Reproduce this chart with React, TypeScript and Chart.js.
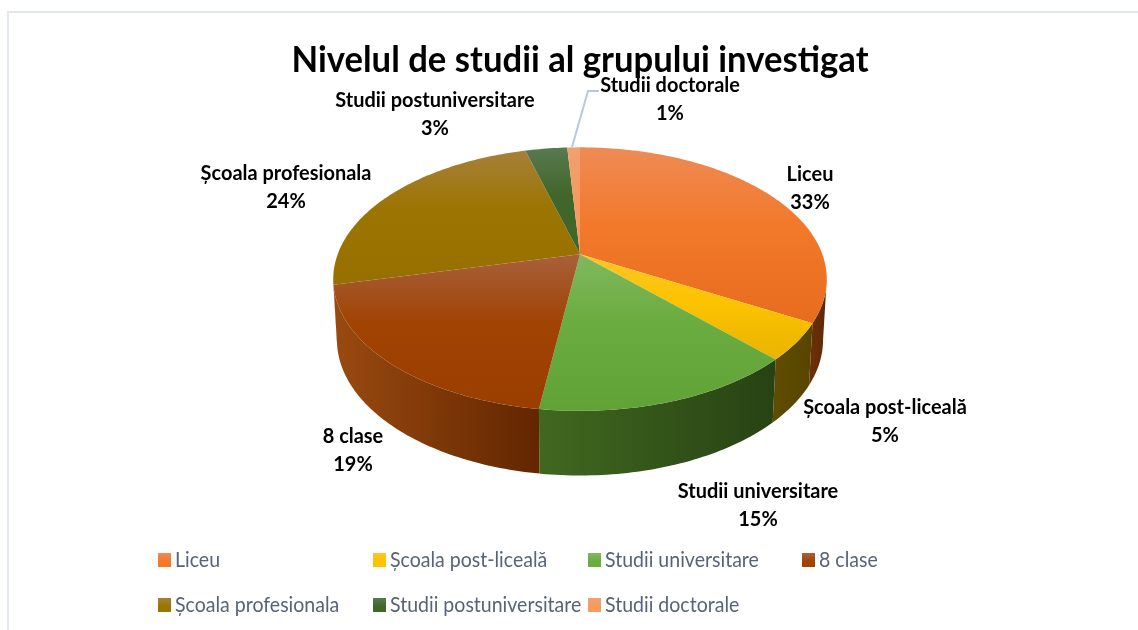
import React, { useEffect, useRef } from "react";
import { Chart, PieController, ArcElement, Title } from "chart.js";

const categories = ["Liceu", "Școala post-liceală", "Studii universitare", "8 clase", "Școala profesionala", "Studii postuniversitare", "Studii doctorale"];
const shares = [33.2, 4.5, 14.5, 19.1, 24.4, 3.3, 1];
const titleText = "Nivelul de studii al grupului investigat";
const topLight = ["#EE8B55", "#FFC42A", "#80B85E", "#A8603C", "#A6803A", "#587A50", "#F0A070"];
const topBase = ["#F2782A", "#FBC300", "#6AAC3F", "#A04303", "#9C7400", "#41662A", "#F79A5F"];
const topLow = ["#E76C1E", "#E9B400", "#60A236", "#9A3E00", "#967000", "#41662A", "#F79A5F"];
const wallLight = ["#6B2F08", "#5F4C00", "#41681F", "#9A4A10", "#6B5200", "#2A4516", "#A05020"];
const wallDark = ["#5E2806", "#574500", "#274214", "#622600", "#6B5200", "#2A4516", "#A05020"];

const labelPositions = [[810, 174], [885, 407], [758, 491], [353, 436], [286, 173], [435, 100], [670, 85]];
const legendPositions = [[158, 553], [373, 553], [588, 553], [802, 553], [158, 598], [373, 598], [588, 598]];

const CANVAS_LEFT = 22;
const K = -0.189;
const RX = 242.6 / 172;
const RY = 127.2 / 172;
const DEPTH = 60 / 172;
const SHRINK_X = 0.985;
const STRETCH_Y = 1.03;
const SIL = Math.asin(-K);

function project(el: any, a: number, bottom: boolean) {
  const R = el.outerRadius;
  const w = 1 + K * Math.sin(a);
  return [
    el.x + ((bottom ? SHRINK_X : 1) * R * RX * Math.cos(a)) / w,
    el.y + (bottom ? R * DEPTH : 0) + ((bottom ? STRETCH_Y : 1) * R * RY * Math.sin(a)) / w,
  ];
}

class Arc3D extends ArcElement {
  static id = "arc3d";
  draw(ctx: CanvasRenderingContext2D) {
    const el: any = this.getProps(["x", "y", "startAngle", "endAngle", "outerRadius"] as any);
    const i = (this as any).sliceIndex as number;
    const STEP = Math.PI / 180;
    // wall
    const a0 = Math.max(el.startAngle, SIL);
    const a1 = Math.min(el.endAngle, Math.PI - SIL);
    if (a1 > a0) {
      const pts: number[][] = [];
      const pbs: number[][] = [];
      for (let a = a0; ; a += STEP) {
        const t = Math.min(a, a1);
        pts.push(project(el, t, false));
        pbs.push(project(el, t, true));
        if (a >= a1) break;
      }
      const xs = pts.map((p) => p[0]);
      const g = ctx.createLinearGradient(Math.min(...xs), 0, Math.max(...xs), 0);
      g.addColorStop(0, wallLight[i]);
      g.addColorStop(1, wallDark[i]);
      ctx.beginPath();
      pts.forEach((p, n) => (n ? ctx.lineTo(p[0], p[1]) : ctx.moveTo(p[0], p[1])));
      pbs.reverse().forEach((p) => ctx.lineTo(p[0], p[1]));
      ctx.closePath();
      ctx.fillStyle = g;
      ctx.fill();
    }
    // top face, shaded over the slice's own height
    const outline: number[][] = [[el.x, el.y]];
    for (let a = el.startAngle; ; a += STEP) {
      const t = Math.min(a, el.endAngle);
      outline.push(project(el, t, false));
      if (a >= el.endAngle) break;
    }
    const ys = outline.map((p) => p[1]);
    const g = ctx.createLinearGradient(0, Math.min(...ys), 0, Math.max(...ys));
    g.addColorStop(0, topLight[i]);
    g.addColorStop(0.45, topBase[i]);
    g.addColorStop(1, topLow[i]);
    ctx.beginPath();
    outline.forEach((p, n) => (n ? ctx.lineTo(p[0], p[1]) : ctx.moveTo(p[0], p[1])));
    ctx.closePath();
    ctx.fillStyle = g;
    ctx.fill();
  }
}

class Pie3DController extends PieController {
  static id = "pie3d";
  static defaults = { ...PieController.defaults, dataElementType: "arc3d" };
  static overrides = PieController.overrides;
  updateElements(arcs: any[], start: number, count: number, mode: any) {
    super.updateElements(arcs, start, count, mode);
    for (let i = start; i < start + count; i++) arcs[i].sliceIndex = i;
  }
}

const narrowTitlePlugin = {
  id: "narrowTitle",
  afterLayout(chart: any) {
    const block = chart.titleBlock;
    if (!block || block.__narrow) return;
    block.__narrow = true;
    const original = block.draw;
    block.draw = function (...args: any[]) {
      const ctx = chart.ctx as CanvasRenderingContext2D;
      const cx = chart.width / 2;
      ctx.save();
      ctx.translate(cx, 0);
      ctx.scale(0.937, 1);
      ctx.translate(-cx, 0);
      original.apply(block, args);
      ctx.restore();
    };
  },
};

const labelsPlugin = {
  id: "sliceLabels",
  afterDatasetsDraw(chart: any) {
    const ctx = chart.ctx as CanvasRenderingContext2D;
    const vals = chart.data.datasets[0].data as number[];
    const total = vals.reduce((s, v) => s + v, 0);
    ctx.save();
    // leader line of the smallest slice
    ctx.strokeStyle = "#B9C8DB";
    ctx.lineWidth = 2;
    ctx.beginPath();
    ctx.moveTo(599 - CANVAS_LEFT, 91);
    ctx.lineTo(588 - CANVAS_LEFT, 91);
    ctx.lineTo(572 - CANVAS_LEFT, 147);
    ctx.stroke();
    ctx.fillStyle = "#000000";
    ctx.textAlign = "center";
    ctx.textBaseline = "middle";
    ctx.font = "bold 21px Lato";
    (chart.data.labels as string[]).forEach((name, i) => {
      const [x, y] = labelPositions[i];
      ctx.save();
      ctx.translate(x - CANVAS_LEFT, 0);
      ctx.scale(0.95, 1);
      ctx.fillText(name, 0, y);
      ctx.fillText(Math.round((vals[i] / total) * 100 + 1e-6) + "%", 0, y + 28.5);
      ctx.restore();
    });
    // legend
    ctx.textAlign = "left";
    ctx.font = "21px Lato";
    (chart.data.labels as string[]).forEach((name, i) => {
      const [x, y] = legendPositions[i];
      const sw = ctx.createLinearGradient(0, y, 0, y + 14);
      sw.addColorStop(0, topLight[i]);
      sw.addColorStop(0.6, topBase[i]);
      ctx.fillStyle = sw;
      ctx.fillRect(x - CANVAS_LEFT, y, 13, 14);
      ctx.fillStyle = "#56637A";
      ctx.save();
      ctx.translate(x + 17 - CANVAS_LEFT, 0);
      ctx.scale(0.93, 1);
      ctx.fillText(name, 0, y + 7);
      ctx.restore();
    });
    ctx.restore();
  },
};

Chart.register(Pie3DController, Arc3D, Title);

export default function App() {
  const ref = useRef<HTMLCanvasElement>(null);
  useEffect(() => {
    const chart = new Chart(ref.current!, {
      type: "pie3d" as any,
      data: {
        labels: categories,
        datasets: [{ data: shares, borderWidth: 0 }],
      },
      options: {
        responsive: false,
        animation: false,
        layout: { padding: { bottom: 204 } },
        plugins: {
          legend: { display: false },
          tooltip: { enabled: false },
          title: {
            display: true,
            text: titleText,
            color: "#000000",
            font: { family: "Lato", weight: "bold", size: 37 },
            padding: { top: 38, bottom: 0 },
          },
        },
      } as any,
      plugins: [narrowTitlePlugin as any, labelsPlugin as any],
    });
    return () => chart.destroy();
  }, []);
  return (
    <div style={{ position: "absolute", left: 0, top: 0, width: 1138, height: 630, overflow: "hidden", background: "#fff" }}>
      <div style={{ position: "absolute", left: 7, top: 11, width: 1200, height: 700, border: "2px solid #E1E5EC", boxSizing: "border-box" }} />
      <canvas ref={ref} width={1116} height={630} style={{ position: "absolute", left: CANVAS_LEFT, top: 0, filter: "blur(0.45px)" }} />
    </div>
  );
}
